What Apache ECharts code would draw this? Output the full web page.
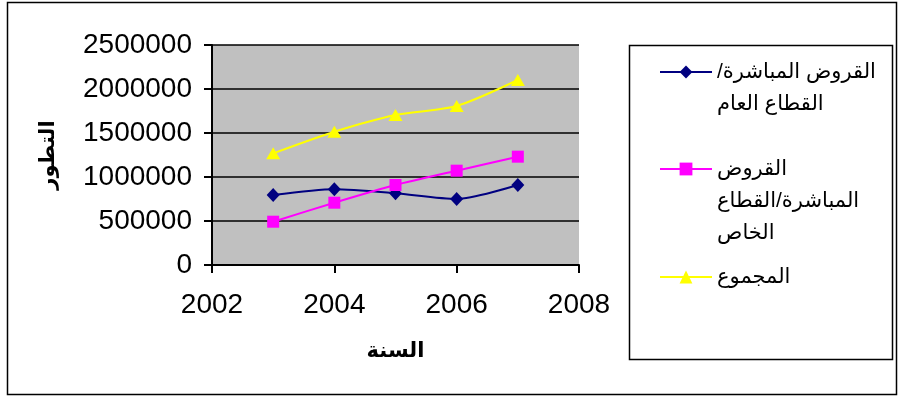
<!DOCTYPE html>
<html>
<head>
<meta charset="utf-8">
<script src="https://cdn.jsdelivr.net/npm/echarts@6/dist/echarts.min.js"></script>
<style>
  html, body { margin: 0; padding: 0; background: #fff; }
  #chart { width: 902px; height: 398px; }
</style>
</head>
<body>
<div id="chart"></div>
<script>
// السنوات والقيم المقروءة من الرسم
var years = [2003, 2004, 2005, 2006, 2007];
var publicLoans = [795000, 860000, 815000, 750000, 909000];
var privateLoans = [492000, 708000, 909000, 1072000, 1231000];
var totalLoans = [1269000, 1515000, 1705000, 1807000, 2102000];

var seriesNames = ['القروض المباشرة/القطاع العام', 'القروض المباشرة/القطاع الخاص', 'المجموع'];
// نص المفتاح مقسم الى اسطر، مع اسطر فارغة في البداية حتى يكون السطر الاول بجانب الرمز
var legendLines = [
  ['', '\u200Fالقروض المباشرة/\u200F', 'القطاع العام'],
  ['', '', 'القروض', 'المباشرة/القطاع', 'الخاص'],
  ['المجموع']
];
var legendIconY = [72, 169, 277];

var font = 'Arial, "Liberation Sans", "DejaVu Sans", sans-serif';
var lineH = 32;

function pairs(vals) {
  return years.map(function (y, i) { return [y, vals[i]]; });
}

var container = document.getElementById('chart');
var myChart = echarts.init(container);

var legends = seriesNames.map(function (name, i) {
  var n = legendLines[i].length;
  return {
    data: [name],
    orient: 'vertical',
    left: 659,
    top: legendIconY[i] - n * lineH / 2,
    padding: 0,
    itemWidth: 52,
    itemHeight: 16,
    selectedMode: false,
    formatter: function () { return legendLines[i].join('\n'); },
    textStyle: { fontFamily: font, fontSize: 21, color: '#000', lineHeight: lineH }
  };
});

myChart.setOption({
  animation: false,
  backgroundColor: '#fff',
  grid: {
    left: 212, top: 45, right: 323, bottom: 133,
    show: true, backgroundColor: '#C0C0C0', borderWidth: 0
  },
  legend: legends,
  graphic: [
    { type: 'rect', shape: { x: 7.5, y: 2.5, width: 889, height: 392 },
      style: { fill: 'none', stroke: '#000', lineWidth: 1.5 }, z: -1 },
    { type: 'rect', shape: { x: 629.5, y: 45.5, width: 263, height: 314 },
      style: { fill: 'none', stroke: '#000', lineWidth: 1.5 } }
  ],
  xAxis: {
    type: 'value', min: 2002, max: 2008, interval: 2,
    name: 'السنة', nameLocation: 'middle', nameGap: 76,
    nameTextStyle: { fontFamily: font, fontSize: 21, fontWeight: 'bold', color: '#000' },
    axisLine: { lineStyle: { color: '#000', width: 2 } },
    axisTick: { show: true, length: 8, lineStyle: { color: '#000', width: 2 } },
    axisLabel: { margin: 26, fontFamily: font, fontSize: 28, color: '#000',
      formatter: function (v) { return String(v); } },
    splitLine: { show: false }
  },
  yAxis: {
    type: 'value', min: 0, max: 2500000, interval: 500000,
    name: 'التطور', nameLocation: 'middle', nameGap: 153, nameRotate: 90,
    nameTextStyle: { fontFamily: font, fontSize: 21, fontWeight: 'bold', color: '#000' },
    axisLine: { show: true, lineStyle: { color: '#000', width: 2 } },
    axisTick: { show: true, length: 8, lineStyle: { color: '#000', width: 2 } },
    axisLabel: { margin: 20, fontFamily: font, fontSize: 28, color: '#000',
      formatter: function (v) { return String(v); } },
    splitLine: { show: true, lineStyle: { color: '#000', width: 1.5 } }
  },
  series: [
    {
      name: seriesNames[0], type: 'line', data: pairs(publicLoans), smooth: 0.25,
      symbol: 'diamond', symbolSize: [13, 14],
      lineStyle: { color: '#000080', width: 2 },
      itemStyle: { color: '#000080' }
    },
    {
      name: seriesNames[1], type: 'line', data: pairs(privateLoans), smooth: 0.25,
      symbol: 'rect', symbolSize: 12,
      lineStyle: { color: '#FF00FF', width: 2 },
      itemStyle: { color: '#FF00FF' }
    },
    {
      name: seriesNames[2], type: 'line', data: pairs(totalLoans), smooth: 0.25,
      symbol: 'triangle', symbolSize: [14, 12],
      lineStyle: { color: '#FFFF00', width: 2 },
      itemStyle: { color: '#FFFF00' }
    }
  ]
});
</script>
</body>
</html>
